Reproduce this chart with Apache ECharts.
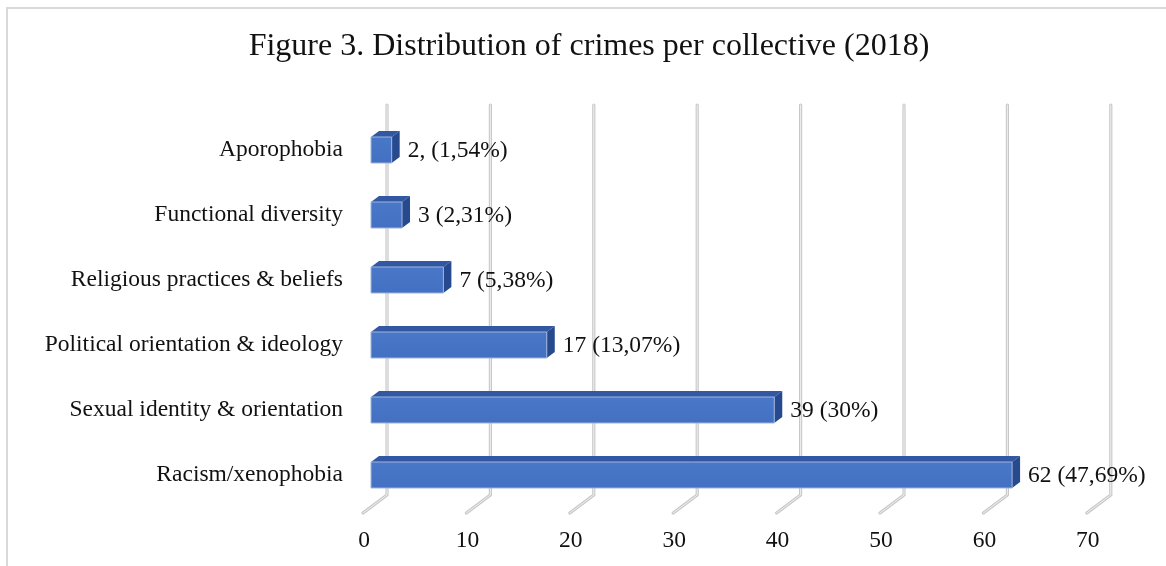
<!DOCTYPE html>
<html>
<head>
<meta charset="utf-8">
<title>Distribution of crimes per collective (2018)</title>
<script src="https://cdn.jsdelivr.net/npm/echarts@6/dist/echarts.min.js"></script>
<style>
  html, body { margin: 0; padding: 0; background: #ffffff; }
  #chart { width: 1166px; height: 566px; }
</style>
</head>
<body>
<div id="chart"></div>
<script>
// Crimes per collective, 2018 (top to bottom as drawn)
const categories = [
  'Aporophobia',
  'Functional diversity',
  'Religious practices & beliefs',
  'Political orientation & ideology',
  'Sexual identity & orientation',
  'Racism/xenophobia'
];
const crimeCounts = [2, 3, 7, 17, 39, 62];
const crimeShares = ['1,54', '2,31', '5,38', '13,07', '30', '47,69'];
const countSuffix = [',', '', '', '', '', ''];
const axisTicks = [0, 10, 20, 30, 40, 50, 60, 70];

const FONT = '"Liberation Serif", "Times New Roman", serif';
const DEPTH_X = 8, DEPTH_Y = 6;          // bar depth in the oblique projection
const WALL_X = 16, WALL_Y = 12.5;        // back wall offset from the bar fronts
const FLOOR_X = 8, FLOOR_Y = 5.5;        // floor front edge offset

const barData = crimeCounts.map((v, i) => [v, i]);
const barLabels = crimeCounts.map((v, i) => v + countSuffix[i] + ' (' + crimeShares[i] + '%)');

const chart = echarts.init(document.getElementById('chart'));

chart.setOption({
  animation: false,
  backgroundColor: '#ffffff',
  title: {
    text: 'Figure 3. Distribution of crimes per collective (2018)',
    left: 589,
    top: 31,
    textAlign: 'center',
    padding: 0,
    textStyle: { fontFamily: FONT, fontSize: 32, fontWeight: 'normal', color: '#111111' }
  },
  graphic: [
    {
      type: 'polyline',
      shape: { points: [[7, 566], [7, 8], [1166, 8]] },
      style: { stroke: '#d9d9d9', lineWidth: 2, fill: null },
      silent: true
    }
  ],
  grid: { left: 371, right: 71.2, top: 117.5, bottom: 58.5, containLabel: false },
  xAxis: {
    type: 'value',
    min: 0,
    max: 70,
    interval: 10,
    axisLine: { show: false },
    axisTick: { show: false },
    splitLine: { show: false },
    axisLabel: {
      margin: 21,
      padding: [0, 14, 0, 0],
      fontFamily: FONT,
      fontSize: 23.5,
      color: '#111111'
    }
  },
  yAxis: {
    type: 'category',
    data: categories,
    inverse: true,
    axisLine: { show: false },
    axisTick: { show: false },
    splitLine: { show: false },
    axisLabel: {
      margin: 28,
      padding: [10, 0, 0, 0],
      fontFamily: FONT,
      fontSize: 23.5,
      color: '#111111'
    }
  },
  series: [
    {
      // back wall gridlines bending onto the floor
      type: 'custom',
      name: 'grid',
      data: axisTicks,
      clip: false,
      silent: true,
      z: 1,
      renderItem(params, api) {
        const cs = params.coordSys;
        const x = api.coord([api.value(0), 0])[0];
        const top = cs.y - WALL_Y;
        const bottom = cs.y + cs.height - WALL_Y;
        const pts = [
          [x + WALL_X, top],
          [x + WALL_X, bottom],
          [x - FLOOR_X, cs.y + cs.height + FLOOR_Y]
        ];
        return {
          type: 'group',
          children: [
            { type: 'polyline', shape: { points: pts }, style: { stroke: '#c8c8c8', lineWidth: 3.2, fill: null, lineJoin: 'round', lineCap: 'round' } },
            { type: 'polyline', shape: { points: pts }, style: { stroke: '#f0f0f0', lineWidth: 1, fill: null, lineJoin: 'round', lineCap: 'round' } }
          ]
        };
      }
    },
    {
      // 3D bars with their value labels
      type: 'custom',
      name: 'Crimes',
      data: barData,
      clip: false,
      z: 2,
      renderItem(params, api) {
        const v = api.value(0);
        const c = api.value(1);
        const p0 = api.coord([0, c]);
        const p1 = api.coord([v, c]);
        const h = api.size([0, 1])[1] * 0.4;
        const yt = p0[1] - h / 2;
        const yb = p0[1] + h / 2;
        const x0 = p0[0], x1 = p1[0];
        return {
          type: 'group',
          children: [
            {
              type: 'polygon',
              shape: { points: [[x0, yt], [x0 + DEPTH_X, yt - DEPTH_Y], [x1 + DEPTH_X, yt - DEPTH_Y], [x1, yt]] },
              style: { fill: '#3258a3' }
            },
            {
              type: 'polygon',
              shape: { points: [[x1, yt], [x1 + DEPTH_X, yt - DEPTH_Y], [x1 + DEPTH_X, yb - DEPTH_Y], [x1, yb]] },
              style: { fill: '#274a8e' }
            },
            {
              type: 'rect',
              shape: { x: x0, y: yt, width: x1 - x0, height: h },
              style: {
                fill: new echarts.graphic.LinearGradient(0, 0, 0, 1, [
                  { offset: 0, color: '#4a78c8' },
                  { offset: 1, color: '#4370c2' }
                ]),
                stroke: '#9fb4dd',
                lineWidth: 1
              }
            },
            {
              type: 'text',
              style: {
                text: barLabels[params.dataIndex],
                x: x1 + DEPTH_X + 8,
                y: p0[1] + 1,
                verticalAlign: 'middle',
                align: 'left',
                fontFamily: FONT,
                fontSize: 23.5,
                fill: '#111111'
              }
            }
          ]
        };
      }
    }
  ]
});
</script>
</body>
</html>
